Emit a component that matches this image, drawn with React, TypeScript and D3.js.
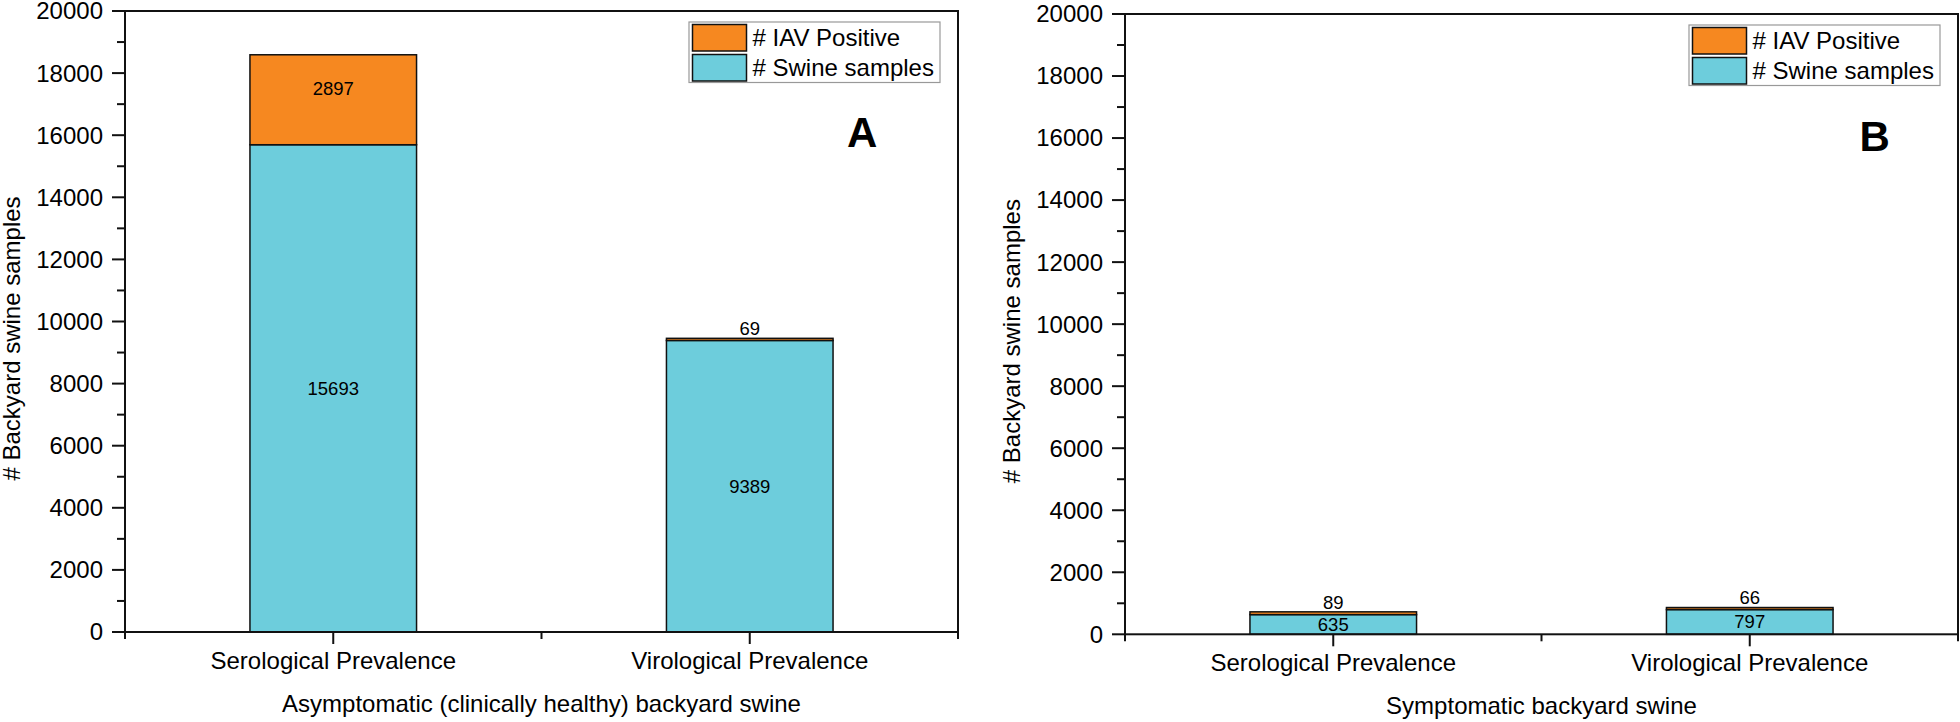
import * as d3 from "d3";

// categories and series
const categories = ["Serological Prevalence", "Virological Prevalence"];
const seriesNames = ["# IAV Positive", "# Swine samples"];
const seriesColors = ["#F68820", "#6DCDDC"];

// panel A: asymptomatic
const swineA = [15693, 9389];
const iavA = [2897, 69];
// panel B: symptomatic
const swineB = [635, 797];
const iavB = [89, 66];

const yTickValues = [0, 2000, 4000, 6000, 8000, 10000, 12000, 14000, 16000, 18000, 20000];
const yMinorValues = [1000, 3000, 5000, 7000, 9000, 11000, 13000, 15000, 17000, 19000];
const xMinorValues = [0.5, 1.5, 2.5];

const panelTitles = ["Asymptomatic (clinically healthy) backyard swine", "Symptomatic backyard swine"];
const panelLetters = ["A", "B"];
const yTitle = "# Backyard swine samples";

const font = "'Liberation Sans', Arial, Helvetica, sans-serif";

function Panel({ left, top, bottom, swine, iav, title, letter, letterPos }) {
  const width = 833;
  const x = d3.scaleLinear().domain([0.5, 2.5]).range([left, left + width]);
  const y = d3.scaleLinear().domain([0, 20000]).range([bottom, top]);
  const barW = x(1.4) - x(1);
  const fs = 24;
  const labelFs = 18.5;

  return (
    <g fontFamily={font} fill="#000">
      {/* bars */}
      {categories.map((c, i) => {
        const xc = x(i + 1);
        const s = swine[i];
        const p = iav[i];
        const ySwine = y(s);
        const yTop = y(s + p);
        const swineMid = (y(0) + ySwine) / 2;
        const iavMid = (ySwine + yTop) / 2 - 11;
        return (
          <g key={c}>
            <rect x={xc - barW / 2} y={ySwine} width={barW} height={y(0) - ySwine}
              fill={seriesColors[1]} stroke="#111" strokeWidth={1.5} />
            <rect x={xc - barW / 2} y={yTop} width={barW} height={ySwine - yTop}
              fill={seriesColors[0]} stroke="#111" strokeWidth={1.5} />
            <text x={xc} y={swineMid} dy="0.35em" textAnchor="middle" fontSize={labelFs}>{s}</text>
            <text x={xc} y={iavMid} dy="0.35em" textAnchor="middle" fontSize={labelFs}>{p}</text>
          </g>
        );
      })}

      {/* frame */}
      <rect x={left} y={top} width={width} height={bottom - top} fill="none" stroke="#111" strokeWidth={2} />

      {/* y ticks */}
      {yTickValues.map(t => (
        <g key={t} transform={`translate(${left},${y(t)})`}>
          <line x1={-13} x2={0} stroke="#111" strokeWidth={2} />
          <text x={-22} dy="0.35em" textAnchor="end" fontSize={fs}>{t}</text>
        </g>
      ))}
      {yMinorValues.map(t => (
        <line key={t} x1={left - 8} x2={left} y1={y(t)} y2={y(t)} stroke="#111" strokeWidth={2} />
      ))}

      {/* x ticks */}
      {categories.map((c, i) => (
        <g key={c} transform={`translate(${x(i + 1)},${bottom})`}>
          <line y1={0} y2={12} stroke="#111" strokeWidth={2} />
          <text y={37} textAnchor="middle" fontSize={fs}>{c}</text>
        </g>
      ))}
      {xMinorValues.map(t => (
        <line key={t} x1={x(t)} x2={x(t)} y1={bottom} y2={bottom + 7} stroke="#111" strokeWidth={2} />
      ))}

      {/* axis titles */}
      <text x={left + width / 2} y={bottom + 80} textAnchor="middle" fontSize={fs}>{title}</text>
      <text transform={`translate(${left - 105.5},${(top + bottom) / 2 + 17}) rotate(-90)`}
        textAnchor="middle" fontSize={fs}>{yTitle}</text>

      {/* panel letter */}
      <text x={x(letterPos[0])} y={y(letterPos[1])} textAnchor="middle" fontSize={42} fontWeight="bold">{letter}</text>

      {/* legend */}
      <g transform={`translate(${left + width - 269},${top + 11})`}>
        <rect x={0} y={0} width={251} height={60.5} fill="#fff" stroke="#999" strokeWidth={1.2} />
        {seriesNames.map((n, i) => (
          <g key={n} transform={`translate(0,${2.5 + i * 30})`}>
            <rect x={3.5} y={0} width={54} height={26.5} fill={seriesColors[i]} stroke="#111" strokeWidth={1.5} />
            <text x={63.5} y={13.3} dy="0.35em" fontSize={fs}>{n}</text>
          </g>
        ))}
      </g>
    </g>
  );
}

export default function App() {
  return (
    <svg width={1960} height={722} style={{ position: "absolute", left: 0, top: 0, background: "#fff" }}>
      <rect width={1960} height={722} fill="#fff" />
      <Panel left={125} top={11} bottom={632} swine={swineA} iav={iavA}
        title={panelTitles[0]} letter={panelLetters[0]} letterPos={[2.27, 15630]} />
      <Panel left={1125} top={14} bottom={634.3} swine={swineB} iav={iavB}
        title={panelTitles[1]} letter={panelLetters[1]} letterPos={[2.3, 15570]} />
    </svg>
  );
}
